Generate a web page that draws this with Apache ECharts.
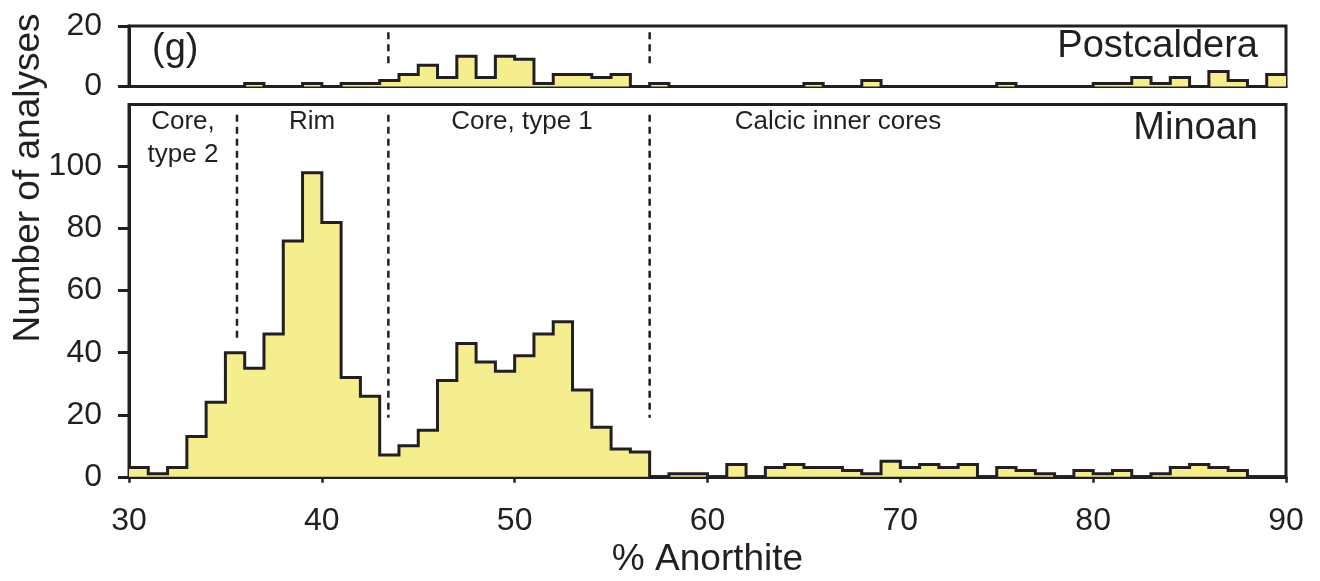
<!DOCTYPE html>
<html>
<head>
<meta charset="utf-8">
<script src="https://cdn.jsdelivr.net/npm/echarts@6/dist/echarts.min.js"></script>
<style>
  html, body { margin: 0; padding: 0; background: #ffffff; }
  #chart { width: 1320px; height: 581px; }
</style>
</head>
<body>
<div id="chart"></div>
<script>
// ---- data (histogram, 1 % An bins) ----
const binEdges = [30,31,32,33,34,35,36,37,38,39,40,41,42,43,44,45,46,47,48,49,
                  50,51,52,53,54,55,56,57,58,59,60,61,62,63,64,65,66,67,68,69,
                  70,71,72,73,74,75,76,77,78,79,80,81,82,83,84,85,86,87,88,89,90];
const postcalderaCounts = [0,0,0,0,0,0,1,0,0,1, 0,1,1,2,4,7,3,10,3,10,
                           9,1,4,4,3,4,0,1,0,0, 0,0,0,0,0,1,0,0,2,0,
                           0,0,0,0,0,1,0,0,0,0, 1,1,3,1,3,0,5,2,0,4];
const minoanCounts = [3,1,3,13,24,40,35,46,76,98, 82,32,26,7,10,15,31,43,37,34,
                      39,46,50,28,16,9,8,0,1,1, 0,4,0,3,4,3,3,2,1,5,
                      3,4,3,4,0,3,2,1,0,2, 1,2,0,1,3,4,3,2,0,0];
const xTicks = [30,40,50,60,70,80,90];
const yTicksTop = [0,20];
const yTicksBottom = [0,20,40,60,80,100];
// region boundaries (% An) and vertical extent of the dashed markers (counts)
const boundsBottom = [[35.6, 116.7, 44.7], [43.45, 116.7, 19], [57.0, 116.7, 19]];
const boundsTop = [[43.45, 17.9, 7.7], [57.0, 17.9, 7.7]];
const regionLabels = ['Core,\ntype 2', 'Rim', 'Core, type 1', 'Calcic inner cores'];

const INK = '#231f20';
const FILL = '#f4ee8f';
const FONT = 'Liberation Sans, Arial, Helvetica, sans-serif';

function stepData(counts) {
  const d = counts.map((c, i) => [binEdges[i], c]);
  d.push([binEdges[binEdges.length - 1], counts[counts.length - 1]]);
  return d;
}
function dashData(b) {
  const out = [];
  b.forEach(r => { out.push([r[0], r[1]], [r[0], r[2]], null); });
  return out;
}

const chart = echarts.init(document.getElementById('chart'), null, { renderer: 'canvas' });

const gridCommon = { left: 129, right: 34, show: true, borderColor: INK, borderWidth: 3,
                     containLabel: false, outerBoundsMode: 'none' };

const option = {
  animation: false,
  backgroundColor: '#ffffff',
  textStyle: { fontFamily: FONT, color: INK },
  grid: [
    Object.assign({ top: 26, height: 60.5 }, gridCommon),
    Object.assign({ top: 104.5, height: 372.3 }, gridCommon)
  ],
  xAxis: [
    { type: 'value', gridIndex: 0, min: 30, max: 90, interval: 10,
      axisLine: { show: true, lineStyle: { color: INK, width: 3 } },
      axisTick: { show: false }, axisLabel: { show: false }, splitLine: { show: false } },
    { type: 'value', gridIndex: 1, min: 30, max: 90, interval: 10,
      axisLine: { show: true, lineStyle: { color: INK, width: 3 } },
      axisTick: { show: true, length: 6, lineStyle: { color: INK, width: 2.5 } },
      axisLabel: { show: true, margin: 28, fontSize: 32, color: INK, fontFamily: FONT,
                   customValues: xTicks },
      splitLine: { show: false },
      name: '% Anorthite', nameLocation: 'middle', nameGap: 63,
      nameTextStyle: { fontSize: 37, color: INK, fontFamily: FONT } }
  ],
  yAxis: [
    { type: 'value', gridIndex: 0, min: 0, max: 20, interval: 20,
      axisLine: { show: true, lineStyle: { color: INK, width: 3 } },
      axisTick: { show: true, length: 11, lineStyle: { color: INK, width: 3 }, customValues: yTicksTop },
      axisLabel: { show: true, margin: 27, fontSize: 32, color: INK, fontFamily: FONT, customValues: yTicksTop },
      splitLine: { show: false } },
    { type: 'value', gridIndex: 1, min: 0, max: 120, interval: 20,
      axisLine: { show: true, lineStyle: { color: INK, width: 3 } },
      axisTick: { show: true, length: 11, lineStyle: { color: INK, width: 3 }, customValues: yTicksBottom },
      axisLabel: { show: true, margin: 27, fontSize: 32, color: INK, fontFamily: FONT, customValues: yTicksBottom },
      splitLine: { show: false } }
  ],
  series: [
    { type: 'line', xAxisIndex: 0, yAxisIndex: 0, step: 'end', symbol: 'none',
      data: stepData(postcalderaCounts),
      lineStyle: { color: INK, width: 3, join: 'miter' },
      areaStyle: { color: FILL, opacity: 1 }, z: 3 },
    { type: 'line', xAxisIndex: 1, yAxisIndex: 1, step: 'end', symbol: 'none',
      data: stepData(minoanCounts),
      lineStyle: { color: INK, width: 3, join: 'miter' },
      areaStyle: { color: FILL, opacity: 1 }, z: 3 },
    { type: 'line', xAxisIndex: 0, yAxisIndex: 0, symbol: 'none', connectNulls: false,
      data: dashData(boundsTop),
      lineStyle: { color: INK, width: 2.5, type: [7, 5] }, z: 4 },
    { type: 'line', xAxisIndex: 1, yAxisIndex: 1, symbol: 'none', connectNulls: false,
      data: dashData(boundsBottom),
      lineStyle: { color: INK, width: 2.5, type: [7, 5] }, z: 4 }
  ],
  graphic: [
    { type: 'text', rotation: Math.PI / 2, position: [29, 178],
      style: { text: 'Number of analyses', font: '37px ' + FONT, fill: INK, textAlign: 'center', textVerticalAlign: 'middle' }, z: 10 },
    { type: 'text', position: [152, 50], style: { text: '(g)', font: '38px ' + FONT, fill: INK, textAlign: 'left', textVerticalAlign: 'middle' }, z: 10 },
    { type: 'text', position: [1258, 47], style: { text: 'Postcaldera', font: '38px ' + FONT, fill: INK, textAlign: 'right', textVerticalAlign: 'middle' }, z: 10 },
    { type: 'text', position: [1258, 129], style: { text: 'Minoan', font: '38px ' + FONT, fill: INK, textAlign: 'right', textVerticalAlign: 'middle' }, z: 10 },
    { type: 'text', position: [183, 138], style: { text: regionLabels[0], font: '26px ' + FONT, fill: INK, textAlign: 'center', textVerticalAlign: 'middle', lineHeight: 33 }, z: 10 },
    { type: 'text', position: [312, 122], style: { text: regionLabels[1], font: '26px ' + FONT, fill: INK, textAlign: 'center', textVerticalAlign: 'middle' }, z: 10 },
    { type: 'text', position: [522, 122], style: { text: regionLabels[2], font: '26px ' + FONT, fill: INK, textAlign: 'center', textVerticalAlign: 'middle' }, z: 10 },
    { type: 'text', position: [838, 122], style: { text: regionLabels[3], font: '26px ' + FONT, fill: INK, textAlign: 'center', textVerticalAlign: 'middle' }, z: 10 }
  ]
};
chart.setOption(option);
</script>
</body>
</html>
